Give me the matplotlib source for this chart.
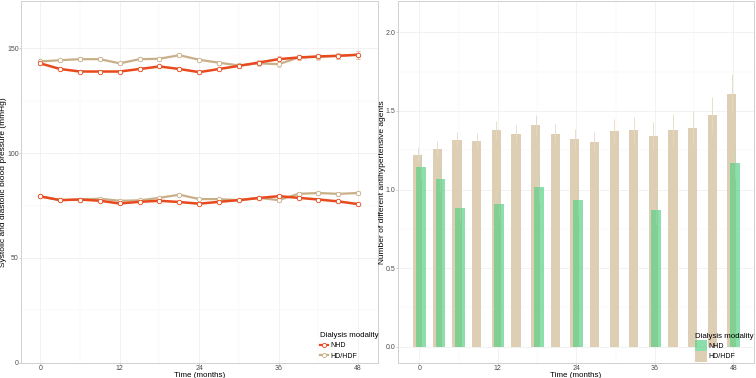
import numpy as np
import matplotlib
matplotlib.use("Agg")
import matplotlib.pyplot as plt
from matplotlib.lines import Line2D
from matplotlib.patches import Patch

plt.rcParams['font.family'] = ['Liberation Sans', 'DejaVu Sans']

# blood pressure panel
months = [0, 3, 6, 9, 12, 15, 18, 21, 24, 27, 30, 33, 36, 39, 42, 45, 48]
sys_nhd = [142.9, 140.2, 139.0, 139.0, 139.0, 140.2, 141.4, 140.2, 138.7, 140.2,
           141.7, 143.3, 144.9, 145.7, 146.2, 146.5, 147.0]
sys_hdf = [143.8, 144.4, 144.9, 144.9, 142.9, 144.9, 145.1, 146.8, 144.6, 143.2,
           141.9, 142.9, 142.5, 145.7, 146.0, 146.5, 147.0]
dia_nhd = [79.4, 77.6, 77.9, 77.3, 76.0, 76.8, 77.3, 76.7, 75.9, 76.8,
           77.6, 78.6, 79.5, 78.7, 77.9, 77.0, 75.7]
dia_hdf = [79.4, 77.6, 77.9, 78.3, 77.3, 77.5, 78.7, 80.2, 78.1, 78.1,
           77.6, 78.7, 77.6, 80.6, 81.0, 80.6, 81.0]
sys_err = [0.8, 0.8, 0.8, 0.8, 0.8, 0.8, 0.9, 0.9, 1.0, 1.0, 1.0, 1.1, 1.3, 1.2, 1.3, 1.5, 2.0]
dia_err = [0.5, 0.5, 0.5, 0.5, 0.5, 0.5, 0.6, 0.6, 0.6, 0.6, 0.6, 0.7, 0.8, 0.8, 0.8, 0.9, 1.1]

# antihypertensive agents panel
agents_hdf = [1.222, 1.261, 1.314, 1.308, 1.382, 1.352, 1.409, 1.356, 1.320, 1.301,
              1.371, 1.380, 1.341, 1.378, 1.392, 1.473, 1.611]
agents_hdf_err = [0.049, 0.049, 0.049, 0.052, 0.057, 0.057, 0.064, 0.062, 0.066, 0.068,
                  0.077, 0.083, 0.086, 0.100, 0.107, 0.119, 0.127]
nhd_months = [0, 3, 6, 12, 18, 24, 36, 48]
agents_nhd = [1.144, 1.066, 0.882, 0.907, 1.013, 0.933, 0.871, 1.168]
agents_nhd_err = [0.08, 0.08, 0.08, 0.08, 0.09, 0.09, 0.09, 0.10]

red = '#E8491D'
tan = '#C9AF88'
bar_tan = '#DECFB4'
bar_green = '#5BD086'
grey_txt = '#4D4D4D'


def style(ax, ylab_x):
    for s in ax.spines.values():
        s.set_color('#D0D0D0')
        s.set_linewidth(0.7)
    ax.grid(which='major', color='#EDEDED', lw=0.5)
    ax.grid(which='minor', color='#F6F6F6', lw=0.35)
    ax.set_axisbelow(True)
    ax.tick_params(which='major', labelsize=5, colors='#BBBBBB', labelcolor=grey_txt,
                   length=1.2, width=0.5, pad=0.3)
    ax.tick_params(which='minor', length=0)
    ax.set_xticks([0, 12, 24, 36, 48])
    ax.set_xticks([6, 18, 30, 42], minor=True)
    ax.set_xlabel('Time (months)', fontsize=5.8, va='center')
    ax.xaxis.set_label_coords(0.5, -0.035)
    ax.yaxis.set_label_coords(ylab_x, 0.5)


fig = plt.figure(figsize=(7.56, 3.78), dpi=100)
ax1 = fig.add_axes([0.0274, 0.0405, 0.4722, 0.9565])
ax2 = fig.add_axes([0.5261, 0.0405, 0.4717, 0.9565])

# left panel
x = np.array(months)
for y, e in [(sys_hdf, sys_err), (dia_hdf, dia_err)]:
    ax1.errorbar(x, y, yerr=e, color=tan, lw=1.6, marker='o', ms=3.2, mfc='white',
                 mec=tan, mew=0.6, ecolor='#E2D3BC', elinewidth=0.6, capsize=1.5, zorder=3)
for y, e in [(sys_nhd, sys_err), (dia_nhd, dia_err)]:
    ax1.errorbar(x, y, yerr=e, color=red, lw=1.8, marker='o', ms=3.2, mfc='white',
                 mec=red, mew=0.6, ecolor='#F2B5A2', elinewidth=0.6, capsize=1.5, zorder=4)
ax1.set_ylabel('Systolic and diastolic blood pressure (mmHg)', fontsize=6, va='center')
style(ax1, -0.047)
ax1.set_xlim(-2.95, 50.95)
ax1.set_ylim(0, 172.6)
ax1.set_yticks([0, 50, 100, 150])
ax1.set_yticks([25, 75, 125], minor=True)
h1 = [Line2D([], [], color=red, lw=1.6, marker='o', ms=3, mfc='white', mec=red, mew=0.6),
      Line2D([], [], color=tan, lw=1.6, marker='o', ms=3, mfc='white', mec=tan, mew=0.6)]
ax1.legend(h1, ['NHD', 'HD/HDF'], title='Dialysis modality', loc='lower left',
           bbox_to_anchor=(0.83, 0.0), frameon=False, fontsize=5,
           title_fontsize=5.7, handlelength=1.2, handletextpad=0.3,
           borderpad=0.2, borderaxespad=0.2, labelspacing=0.5, alignment='left')

# right panel
ax2.bar(np.array(months) - 0.23, agents_hdf, width=1.4, color=bar_tan, zorder=2)
ax2.errorbar(np.array(months) - 0.23, agents_hdf, yerr=agents_hdf_err, fmt='none',
             ecolor='#E6D9C4', elinewidth=0.6, zorder=3)
ax2.bar(np.array(nhd_months) + 0.23, agents_nhd, width=1.5, color=bar_green, alpha=0.7, zorder=4)
ax2.errorbar(np.array(nhd_months) + 0.23, agents_nhd, yerr=agents_nhd_err, fmt='none',
             ecolor='#A9D9B8', elinewidth=0.5, alpha=0.6, zorder=5)
ax2.set_ylabel('Number of different antihypertensive agents', fontsize=6, va='center')
style(ax2, -0.042)
ax2.set_xlim(-3.3, 51.2)
ax2.set_ylim(-0.102, 2.199)
ax2.set_yticks([0, 0.5, 1.0, 1.5, 2.0])
ax2.set_yticklabels(['0.0', '0.5', '1.0', '1.5', '2.0'])
ax2.set_yticks([0.25, 0.75, 1.25, 1.75], minor=True)
h2 = [Patch(facecolor=bar_green, alpha=0.7), Patch(facecolor=bar_tan)]
ax2.legend(h2, ['NHD', 'HD/HDF'], title='Dialysis modality', loc='lower left',
           bbox_to_anchor=(0.83, 0.0), frameon=False, fontsize=5,
           title_fontsize=5.7, handlelength=1.7, handleheight=2.0,
           handletextpad=0.3, borderpad=0.1, borderaxespad=0.05,
           labelspacing=0.0, alignment='left')

fig.savefig('out.png', dpi=100)
